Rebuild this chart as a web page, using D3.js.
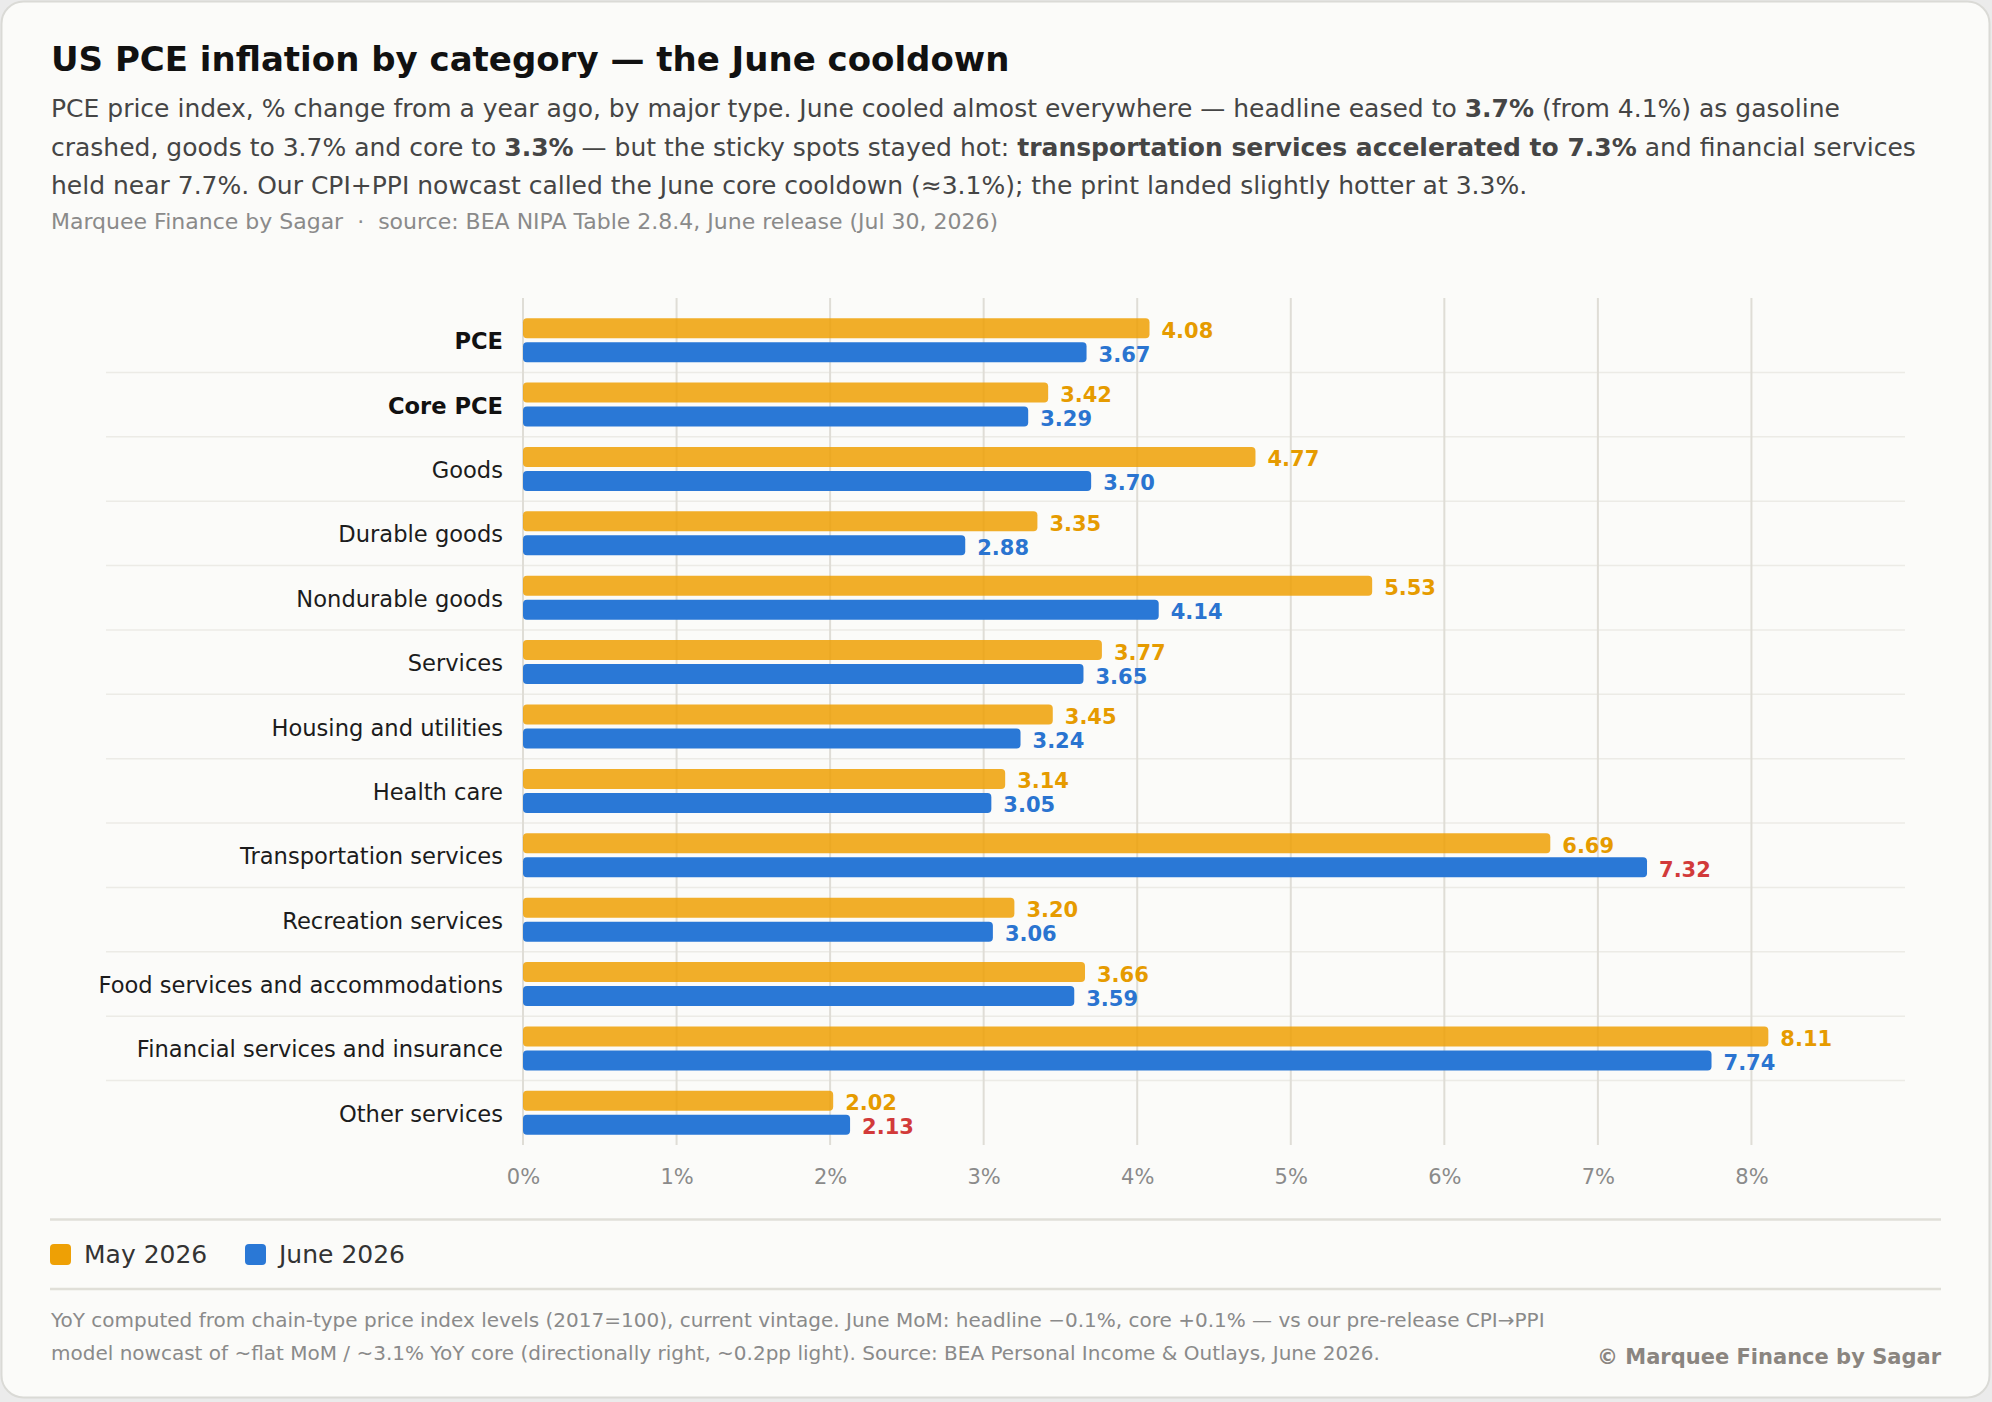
<!DOCTYPE html>
<html>
<head>
<meta charset="utf-8">
<script src="https://cdn.jsdelivr.net/npm/d3@7"></script>
<style>
  html, body { margin: 0; padding: 0; background: #ebebeb; }
  svg { display: block; font-family: "DejaVu Sans", sans-serif; }
</style>
</head>
<body>
<div id="chart"></div>
<script>
// data
const categories = [
  "PCE", "Core PCE", "Goods", "Durable goods", "Nondurable goods", "Services",
  "Housing and utilities", "Health care", "Transportation services",
  "Recreation services", "Food services and accommodations",
  "Financial services and insurance", "Other services"
];
const may2026 = [4.08, 3.42, 4.77, 3.35, 5.53, 3.77, 3.45, 3.14, 6.69, 3.20, 3.66, 8.11, 2.02];
const june2026 = [3.67, 3.29, 3.70, 2.88, 4.14, 3.65, 3.24, 3.05, 7.32, 3.06, 3.59, 7.74, 2.13];
const headlineRows = ["PCE", "Core PCE"];
const tickValues = [0, 1, 2, 3, 4, 5, 6, 7, 8];
const seriesNames = ["May 2026", "June 2026"];

const orange = "#eea005"
const blue = "#2a78d6"
const orangeText = "#e69b00"
const blueText = "#2a74d0"
const redText = "#d23a3a"

// dimensions
const width = 1992;
const height = 1402;
const plotLeft = 523;
const plotRight = 1905;
const plotTop = 308;
const plotBottom = 1145;

const rows = categories.map((c, i) => ({cat: c, may: may2026[i], june: june2026[i]}));

const x = d3.scaleLinear()
  .domain([0, 9])
  .range([plotLeft, plotRight]);

const y = d3.scaleBand()
  .domain(categories)
  .range([plotTop, plotBottom]);

const svg = d3.create("svg")
  .attr("width", width)
  .attr("height", height)
  .attr("viewBox", [0, 0, width, height]);

// card
svg.append("rect")
  .attr("x", 1.5).attr("y", 1.5)
  .attr("width", 1988).attr("height", 1396)
  .attr("rx", 22)
  .attr("fill", "#fbfbf9")
  .attr("stroke", "#dadad6")
  .attr("stroke-width", 2);

// title + subtitle
svg.append("text")
  .attr("x", 51).attr("y", 71)
  .attr("font-size", 34).attr("font-weight", "bold")
  .attr("fill", "#111")
  .text("US PCE inflation by category \u2014 the June cooldown");

const subLines = [
  [["PCE price index, % change from a year ago, by major type. June cooled almost everywhere \u2014 headline eased to ", false], ["3.7%", true], [" (from 4.1%) as gasoline", false]],
  [["crashed, goods to 3.7% and core to ", false], ["3.3%", true], [" \u2014 but the sticky spots stayed hot: ", false], ["transportation services accelerated to 7.3%", true], [" and financial services", false]],
  [["held near 7.7%. Our CPI+PPI nowcast called the June core cooldown (\u22483.1%); the print landed slightly hotter at 3.3%.", false]]
];
subLines.forEach((parts, i) => {
  const t = svg.append("text")
    .attr("x", 51).attr("y", 117 + i * 38.5)
    .attr("font-size", 25)
    .attr("fill", "#454545");
  parts.forEach(([s, b]) => {
    t.append("tspan")
      .attr("font-weight", b ? "bold" : "normal")
      .text(s);
  });
});

svg.append("text")
  .attr("x", 51).attr("y", 229)
  .attr("font-size", 22)
  .attr("fill", "#8a8a8a")
  .attr("xml:space", "preserve")
  .text("Marquee Finance by Sagar  \u00b7  source: BEA NIPA Table 2.8.4, June release (Jul 30, 2026)");

// row separators
svg.append("g")
  .selectAll("line")
  .data(categories.slice(1))
  .join("line")
    .attr("x1", 106).attr("x2", plotRight)
    .attr("y1", d => y(d)).attr("y2", d => y(d))
    .attr("stroke", "#ecebe6")
    .attr("stroke-width", 1.5);

// vertical gridlines
svg.append("g")
  .selectAll("line")
  .data(tickValues)
  .join("line")
    .attr("x1", d => x(d)).attr("x2", d => x(d))
    .attr("y1", 298).attr("y2", plotBottom)
    .attr("stroke", "#dfddd6")
    .attr("stroke-width", 2);

// bars
const bh = 20;
const rowG = svg.append("g")
  .selectAll("g")
  .data(rows)
  .join("g")
    .attr("transform", d => `translate(0,${y(d.cat) + y.bandwidth() / 2})`);

rowG.append("rect")
  .attr("x", x(0))
  .attr("y", -22)
  .attr("width", d => x(d.may) - x(0))
  .attr("height", bh)
  .attr("rx", 4)
  .attr("fill", orange)
  .attr("fill-opacity", 0.85);

rowG.append("rect")
  .attr("x", x(0))
  .attr("y", 2)
  .attr("width", d => x(d.june) - x(0))
  .attr("height", bh)
  .attr("rx", 4)
  .attr("fill", blue);

// value labels
rowG.append("text")
  .attr("x", d => x(d.may) + 12)
  .attr("y", -22 + bh / 2 + 9.5)
  .attr("font-size", 21).attr("font-weight", "bold")
  .attr("fill", orangeText)
  .text(d => d.may.toFixed(2));

rowG.append("text")
  .attr("x", d => x(d.june) + 12)
  .attr("y", 2 + bh / 2 + 9.5)
  .attr("font-size", 21).attr("font-weight", "bold")
  .attr("fill", d => d.june > d.may ? redText : blueText)
  .text(d => d.june.toFixed(2));

// category labels
rowG.append("text")
  .attr("x", 503)
  .attr("y", 9)
  .attr("text-anchor", "end")
  .attr("font-size", 22.6)
  .attr("font-weight", d => headlineRows.includes(d.cat) ? "bold" : "normal")
  .attr("fill", d => headlineRows.includes(d.cat) ? "#111" : "#1c1c1c")
  .text(d => d.cat);

// x axis
const xAxis = svg.append("g")
  .attr("transform", `translate(0,${plotBottom})`)
  .call(d3.axisBottom(x).tickValues(tickValues).tickFormat(d => d + "%").tickSize(0).tickPadding(0));
xAxis.select(".domain").remove();
xAxis.selectAll("text")
  .attr("dy", null)
  .attr("y", 39)
  .attr("font-size", 21)
  .attr("font-family", "DejaVu Sans")
  .attr("fill", "#8a8a8a");

// legend
[1219.5, 1289].forEach(ly => {
  svg.append("line")
    .attr("x1", 50).attr("x2", 1941)
    .attr("y1", ly).attr("y2", ly)
    .attr("stroke", "#e0dfd8")
    .attr("stroke-width", 2.5);
});

const legendX = [50, 245];
const legendColors = [orange, blue];
seriesNames.forEach((name, i) => {
  svg.append("rect")
    .attr("x", legendX[i]).attr("y", 1244)
    .attr("width", 21).attr("height", 21)
    .attr("rx", 4)
    .attr("fill", legendColors[i]);
  svg.append("text")
    .attr("x", legendX[i] + 34).attr("y", 1263)
    .attr("font-size", 25)
    .attr("fill", "#333")
    .text(name);
});

// footer
const footLines = [
  "YoY computed from chain-type price index levels (2017=100), current vintage. June MoM: headline \u22120.1%, core +0.1% \u2014 vs our pre-release CPI\u2192PPI",
  "model nowcast of ~flat MoM / ~3.1% YoY core (directionally right, ~0.2pp light). Source: BEA Personal Income & Outlays, June 2026."
];
footLines.forEach((s, i) => {
  svg.append("text")
    .attr("x", 51).attr("y", 1327 + i * 33)
    .attr("font-size", 20)
    .attr("fill", "#8a8a8a")
    .text(s);
});

svg.append("text")
  .attr("x", 1941).attr("y", 1364)
  .attr("text-anchor", "end")
  .attr("font-size", 21).attr("font-weight", "bold")
  .attr("fill", "#8a8580")
  .text("\u00a9 Marquee Finance by Sagar");

document.querySelector("#chart").append(svg.node());
</script>
</body>
</html>
